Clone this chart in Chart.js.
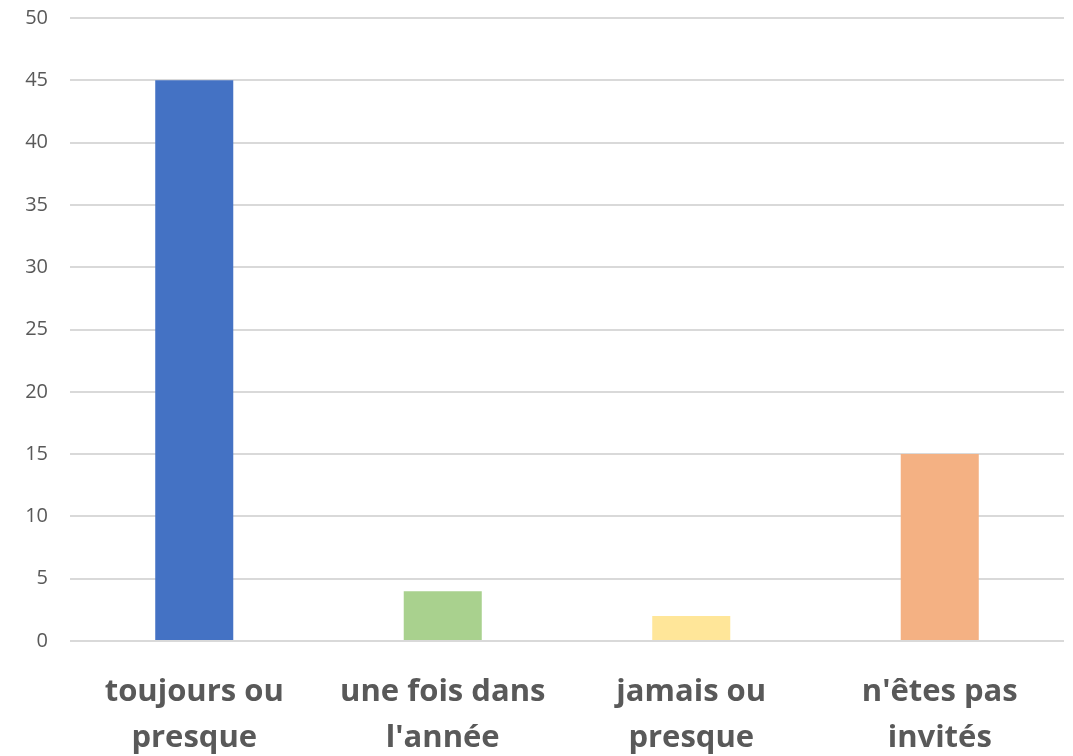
<!DOCTYPE html>
<html>
<head>
<meta charset="utf-8">
<script src="https://cdn.jsdelivr.net/npm/chart.js@4"></script>
<style>
    html, body { margin: 0; padding: 0; background: #ffffff; }
    #wrap { width: 1073px; height: 756px; }
</style>
</head>
<body>
<div id="wrap"><canvas id="base" width="1073" height="756"></canvas></div>
<script>
// Data
const categories = [["toujours ou", "presque"], ["une fois dans", "l'année"], ["jamais ou", "presque"], ["n'êtes pas", "invités"]];
const values = [45, 4, 2, 15];
const barColors = ["#4472C4", "#A9D18E", "#FFE699", "#F4B183"];
const yTicks = [0, 5, 10, 15, 20, 25, 30, 35, 40, 45, 50];

// Chart
const ctx = document.getElementById("base").getContext("2d");

new Chart(ctx, {
    type: "bar",
    data: {
        labels: categories,
        datasets: [
            {
                data: values,
                backgroundColor: barColors,
                borderWidth: 0,
                categoryPercentage: 1,
                barPercentage: 0.314,
            },
        ],
    },
    options: {
        responsive: false,
        animation: false,
        layout: {
            padding: { top: 18, right: 9, bottom: 0, left: 0 },
        },
        scales: {
            y: {
                min: yTicks[0],
                max: yTicks[yTicks.length - 1],
                ticks: {
                    stepSize: 5,
                    color: "#595959",
                    padding: 22,
                    font: { family: "Open Sans", size: 20 },
                },
                grid: {
                    color: "#d9d9d9",
                    lineWidth: 2,
                    drawTicks: false,
                },
                border: { display: false },
                afterFit: (axis) => {
                    axis.width = 70;
                    axis.paddingTop = 0;
                    axis.paddingBottom = 0;
                },
            },
            x: {
                ticks: {
                    color: "#595959",
                    padding: 28,
                    font: { family: "Open Sans", size: 31, weight: "bold", lineHeight: 1.48 },
                    maxRotation: 0,
                },
                grid: { display: false, drawTicks: false },
                border: { display: false },
                afterFit: (axis) => {
                    axis.height = 115;
                    axis.paddingLeft = 0;
                    axis.paddingRight = 0;
                },
            },
        },
        plugins: {
            legend: { display: false },
            tooltip: { enabled: false },
        },
    },
});
</script>
</body>
</html>
